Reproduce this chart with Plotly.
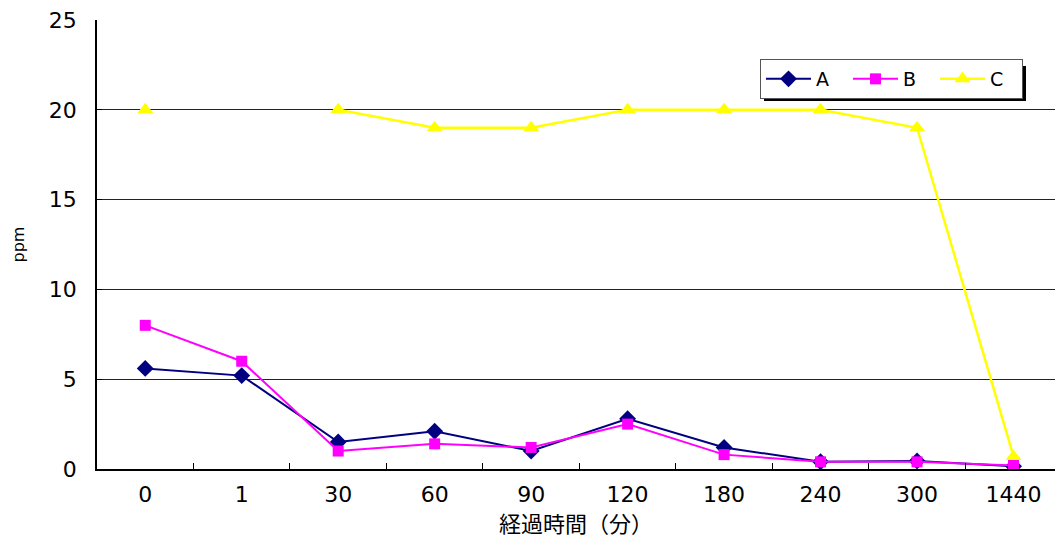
import plotly.graph_objects as go

categories = ["0", "1", "30", "60", "90", "120", "180", "240", "300", "1440"]
series_a = [5.6, 5.2, 1.5, 2.1, 1.0, 2.8, 1.2, 0.4, 0.45, 0.15]
series_b = [8.0, 6.0, 1.0, 1.4, 1.2, 2.5, 0.8, 0.4, 0.4, 0.2]
series_c = [20, None, 20, 19, 19, 20, 20, 20, 19, 0.7]
y_ticks = [0, 5, 10, 15, 20, 25]

W, H = 1055, 538
L, R, T, B = 97, 0, 20, 69
pw, ph = W - L - R, H - T - B

def px_x(x):
    return (x - L) / pw

def px_y(y):
    return (H - B - y) / ph

fig = go.Figure()
fig.add_trace(go.Scatter(x=categories, y=series_a, name="A", mode="lines+markers",
                         line=dict(color="#000080", width=2),
                         marker=dict(symbol="diamond", size=13, color="#000080")))
fig.add_trace(go.Scatter(x=categories, y=series_b, name="B", mode="lines+markers",
                         line=dict(color="#FF00FF", width=2),
                         marker=dict(symbol="square", size=11, color="#FF00FF")))
fig.add_trace(go.Scatter(x=categories, y=series_c, name="C", mode="lines+markers",
                         connectgaps=False,
                         line=dict(color="#FFFF00", width=2.5),
                         marker=dict(symbol="triangle-up", size=14, color="#FFFF00")))

# legend shadow (offset copy of the legend box)
fig.add_shape(type="rect", xref="paper", yref="paper",
              x0=px_x(764), x1=px_x(1026), y0=px_y(101), y1=px_y(66),
              fillcolor="black", line=dict(width=0), layer="above")

fig.update_layout(
    width=W, height=H,
    margin=dict(l=L, r=R, t=T, b=B, autoexpand=False),
    paper_bgcolor="white", plot_bgcolor="white",
    font=dict(family="DejaVu Sans, sans-serif", size=22, color="black"),
    showlegend=True,
    legend=dict(orientation="h", x=px_x(760), y=px_y(59), xanchor="left", yanchor="top",
                bgcolor="white", bordercolor="#555555", borderwidth=1,
                font=dict(size=19, family="DejaVu Sans, sans-serif"),
                itemwidth=45, entrywidth=27, entrywidthmode="pixels",
                tracegroupgap=0),
    xaxis=dict(type="category", range=[-0.5, 9.43], showline=True, linecolor="black", linewidth=1.5,
               ticks="inside", ticklen=6, tickcolor="black", tickson="boundaries",
               showgrid=False, zeroline=False, ticklabelstandoff=5,
               title=dict(text="経過時間（分）", font=dict(family="Noto Sans CJK JP", size=22), standoff=6),
               tickfont=dict(size=22)),
    yaxis=dict(range=[0, 25], tickvals=y_ticks, showline=True, linecolor="black", linewidth=1.5,
               ticks="inside", ticklen=5, tickcolor="black", ticklabelstandoff=14,
               showgrid=True, gridcolor="#222222", gridwidth=1, zeroline=False,
               title=dict(text="ppm", font=dict(size=16), standoff=20),
               tickfont=dict(size=22)),
)

fig.write_html("out.html")
